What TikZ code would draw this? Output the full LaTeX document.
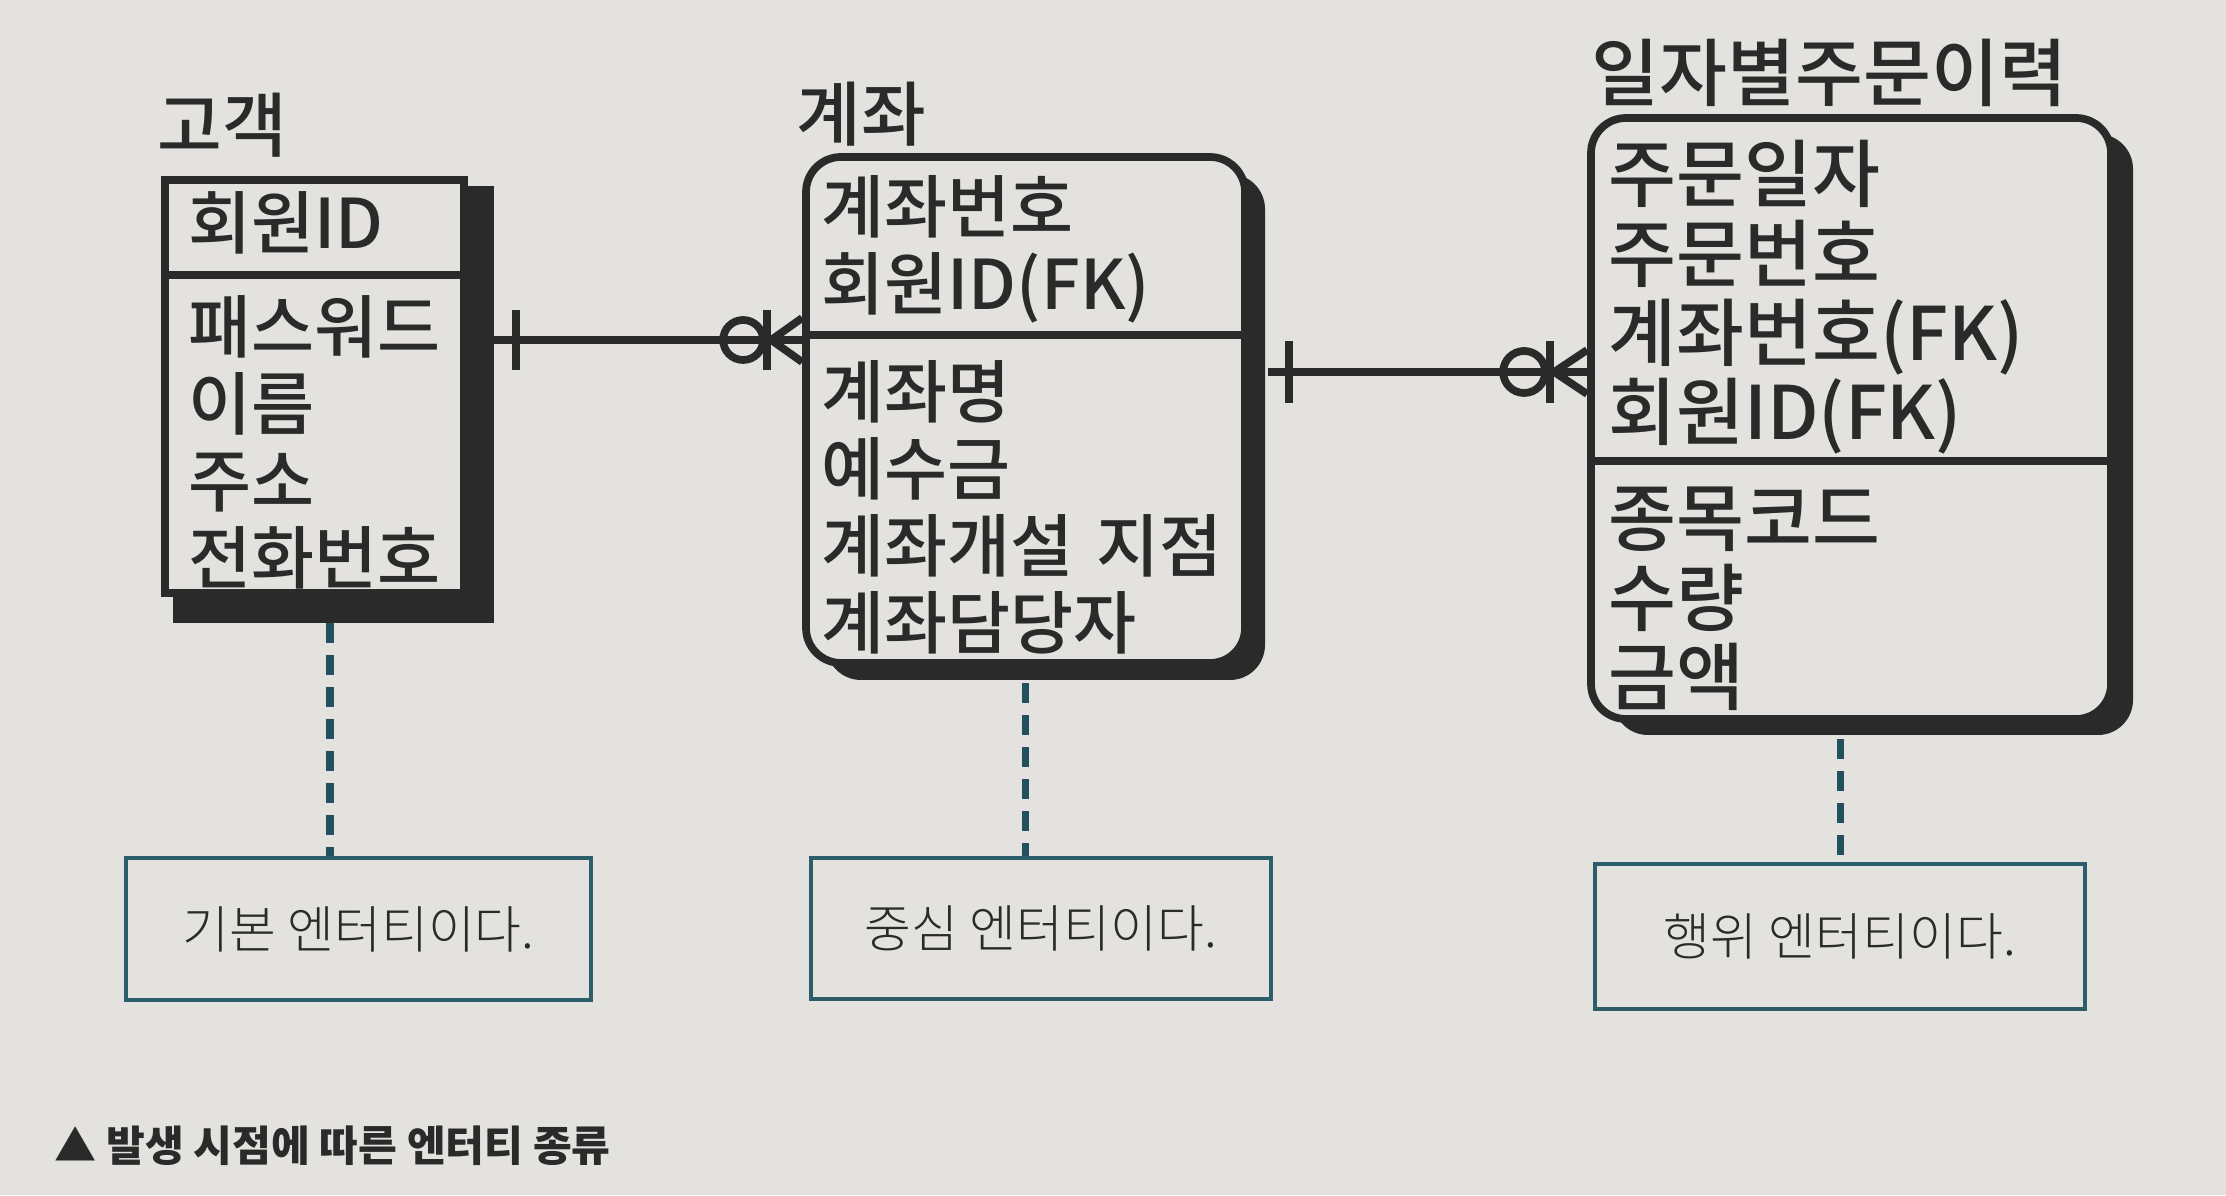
\documentclass[tikz,border=0pt]{standalone}
\usepackage{fontspec}
\setmainfont{Noto Sans CJK KR}
\newfontfamily\entfont{Noto Sans CJK KR Medium}
\newfontfamily\notefont{Noto Sans CJK KR Light}
\usepackage{tikz}
\usetikzlibrary{positioning, calc, shadows, backgrounds}
\definecolor{paper}{HTML}{E3E2DE}
\definecolor{ink}{HTML}{2A2A2A}
\definecolor{notecol}{HTML}{2D5D6B}
\definecolor{dashcol}{HTML}{22505C}

\begin{document}
\begin{tikzpicture}[
    node distance=0.2cm,
    entity/.style={rectangle, draw=ink, line width=2.2pt, fill=paper, inner sep=0pt},
    roundent/.style={entity, rounded corners=0.35cm},
    ttl/.style={font=\entfont\fontsize{20}{22}\selectfont, text=ink, inner sep=0pt, anchor=base west},
    attr/.style={font=\entfont\fontsize{19.5}{21.9}\selectfont, text=ink, inner sep=0pt,
                 text width=5.5cm, align=left, anchor=base west},
    bigattr/.style={attr, font=\entfont\fontsize{21}{22.5}\selectfont},
    note/.style={rectangle, draw=notecol, line width=1.1pt, fill=paper, inner sep=0pt,
                 font=\notefont\fontsize{14.5}{17}\selectfont, text=ink},
    div/.style={draw=ink, line width=2.2pt},
    rel/.style={draw=ink, line width=2.2pt},
    dashln/.style={draw=dashcol, line width=2pt, dash pattern=on 0.2cm off 0.12cm},
    capt/.style={font=\bfseries\fontsize{12}{14}\selectfont, text=ink, inner sep=0pt, anchor=base west}
]
\path[use as bounding box] (0,0) rectangle (22.26,11.95);
\begin{scope}[on background layer]
\fill[paper] (0,0) rectangle (22.26,11.95);
\end{scope}

% entities
\node[entity, minimum width=2.99cm, minimum height=4.13cm] (cust) at (3.145,8.085) {};
\node[roundent, minimum width=4.39cm, minimum height=5.06cm,
      drop shadow={shadow xshift=0.2cm, shadow yshift=-0.17cm, fill=ink, opacity=1}] (acct) at (10.255,7.85) {};
\node[roundent, minimum width=5.20cm, minimum height=6.01cm,
      drop shadow={shadow xshift=0.22cm, shadow yshift=-0.16cm, fill=ink, opacity=1}] (ordr) at (18.51,7.765) {};
\begin{scope}[on background layer]
\fill[ink] ($(cust.south west)+(0.12,-0.26)$) rectangle ($(cust.north east)+(0.26,-0.1)$);
\end{scope}

\node[ttl] (custT) at ($(cust.north west)+(-0.04,0.25)$) {고객};
\node[ttl] (acctT) at ($(acct.north west)+(-0.06,0.13)$) {계좌};
\node[ttl, font=\entfont\fontsize{21}{22}\selectfont] (ordrT) at ($(ordr.north west)+(0.04,0.14)$) {일자별주문이력};

\draw[div] (cust.west |- 0,9.20) -- (cust.east |- 0,9.20);
\draw[div] (acct.west |- 0,8.60) -- (acct.east |- 0,8.60);
\draw[div] (ordr.west |- 0,7.34) -- (ordr.east |- 0,7.34);

\node[attr] (custK) at (1.88,9.46) {회원ID};
\node[attr] (custA) at (1.88,8.42) {패스워드\\이름\\주소\\전화번호};
\node[attr] (acctK) at (8.21,9.62) {계좌번호\\회원ID(FK)};
\node[attr] (acctA) at (8.21,7.77) {계좌명\\예수금\\계좌개설 지점\\계좌담당자};
\node[bigattr] (ordrK) at (16.08,9.93) {주문일자\\주문번호\\계좌번호(FK)\\회원ID(FK)};
\node[bigattr] (ordrA) at (16.08,6.49) {종목코드\\수량\\금액};

% relationships
\coordinate (c1s) at ($(cust.east |- 0,8.55)+(0.26,0)$);
\coordinate (c1e) at (acct.west |- 0,8.55);
\draw[rel] (c1s) -- (c1e);
\draw[rel] ($(c1s)+(0.22,-0.30)$) -- ++(0,0.60);
\draw[rel] ($(c1e)+(-0.59,0)$) circle (0.2);
\draw[rel] ($(c1e)+(-0.35,-0.30)$) -- ++(0,0.60);
\draw[rel] ($(c1e)+(0,0.22)$) -- ($(c1e)+(-0.31,0)$) -- ($(c1e)+(0,-0.22)$);

\coordinate (c2s) at ($(acct.east |- 0,8.23)+(0.19,0)$);
\coordinate (c2e) at (ordr.west |- 0,8.23);
\draw[rel] (c2s) -- (c2e);
\draw[rel] ($(c2s)+(0.21,-0.31)$) -- ++(0,0.62);
\draw[rel] ($(c2e)+(-0.63,0)$) circle (0.21);
\draw[rel] ($(c2e)+(-0.37,-0.31)$) -- ++(0,0.62);
\draw[rel] ($(c2e)+(0,0.22)$) -- ($(c2e)+(-0.33,0)$) -- ($(c2e)+(0,-0.22)$);

% notes
\node[note, minimum width=4.65cm, minimum height=1.42cm] (note1) at (3.585,2.66) {기본 엔터티이다.};
\node[note, minimum width=4.60cm, minimum height=1.41cm] (note2) at (10.41,2.665) {중심 엔터티이다.};
\node[note, minimum width=4.90cm, minimum height=1.45cm] (note3) at (18.40,2.585) {행위 엔터티이다.};

\coordinate (d1) at ($(cust.south)+(0.155,-0.26)$);
\coordinate (d2) at ($(acct.south)+(0,-0.16)$);
\coordinate (d3) at ($(ordr.south)+(-0.11,-0.16)$);
\draw[dashln] (d1) -- (d1 |- note1.north);
\draw[dashln] (d2) -- (d2 |- note2.north);
\draw[dashln] (d3) -- (d3 |- note3.north);

\node[capt] (caption) at (0.54,0.34) {▲ 발생 시점에 따른 엔터티 종류};
\end{tikzpicture}
\end{document}
